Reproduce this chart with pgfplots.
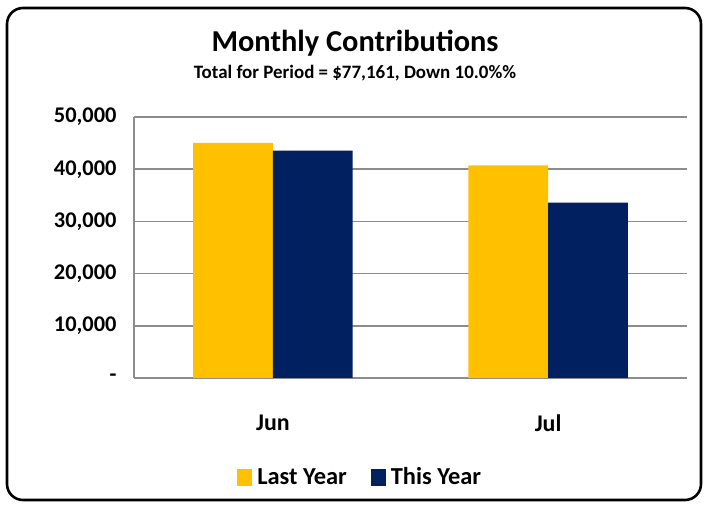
\documentclass[border=0pt]{standalone}
\usepackage{pgfplots}
\pgfplotsset{compat=1.18}
\usepackage{fontspec}
\setmainfont{Carlito}
\definecolor{lyc}{HTML}{FFC000}
\definecolor{tyc}{HTML}{002060}
\definecolor{gridc}{HTML}{8C8C8C}
\begin{document}
\begin{tikzpicture}
\path[use as bounding box] (0bp,0bp) rectangle (709bp,506bp);
\draw[line width=2.6bp,rounded corners=16bp] (7bp,6bp) rectangle (701bp,498bp);
\node[font=\fontsize{30.5}{33}\selectfont\bfseries] at (355bp,463bp) {Monthly Contributions};
\node[font=\fontsize{19}{21}\selectfont\bfseries] at (355bp,433bp) {Total for Period = \$77,161, Down 10.0\%\%};
\begin{axis}[
  at={(134bp,128bp)}, anchor=south west,
  scale only axis, width=553bp, height=261bp,
  xmin=-0.505, xmax=1.505, ymin=0, ymax=50000,
  ybar=0pt, bar width=0.29,
  xtick={0,1}, xticklabels={Jun,Jul},
  ytick={0,10000,20000,30000,40000,50000},
  yticklabels={-,{10,000},{20,000},{30,000},{40,000},{50,000}},
  scaled y ticks=false,
  ymajorgrids, grid style={gridc, line width=1.5bp},
  axis x line*=bottom, axis y line*=left,
  axis line style={gridc, line width=1.3bp, -},
  major tick length=0pt,
  tick label style={font=\fontsize{22.5}{25}\selectfont\bfseries},
  yticklabel style={xshift=-14bp},
  xticklabel style={yshift=-33bp, font=\fontsize{24}{26}\selectfont\bfseries},
  legend style={at={(0.409,-0.38)}, anchor=center, draw=none, legend columns=2,
     font=\fontsize{24.5}{26}\selectfont\bfseries,
     /tikz/every odd column/.append style={column sep=3bp},
     /tikz/every even column/.append style={column sep=22bp}},
  legend image code/.code={\fill[#1] (0bp,-8.5bp) rectangle (15bp,8.5bp);},
]
\addplot[fill=lyc, draw=none] coordinates {(0,45040) (1,40710)};
\addplot[fill=tyc, draw=none] coordinates {(0,43575) (1,33586)};
\legend{Last Year, This Year}
\end{axis}
\end{tikzpicture}
\end{document}
